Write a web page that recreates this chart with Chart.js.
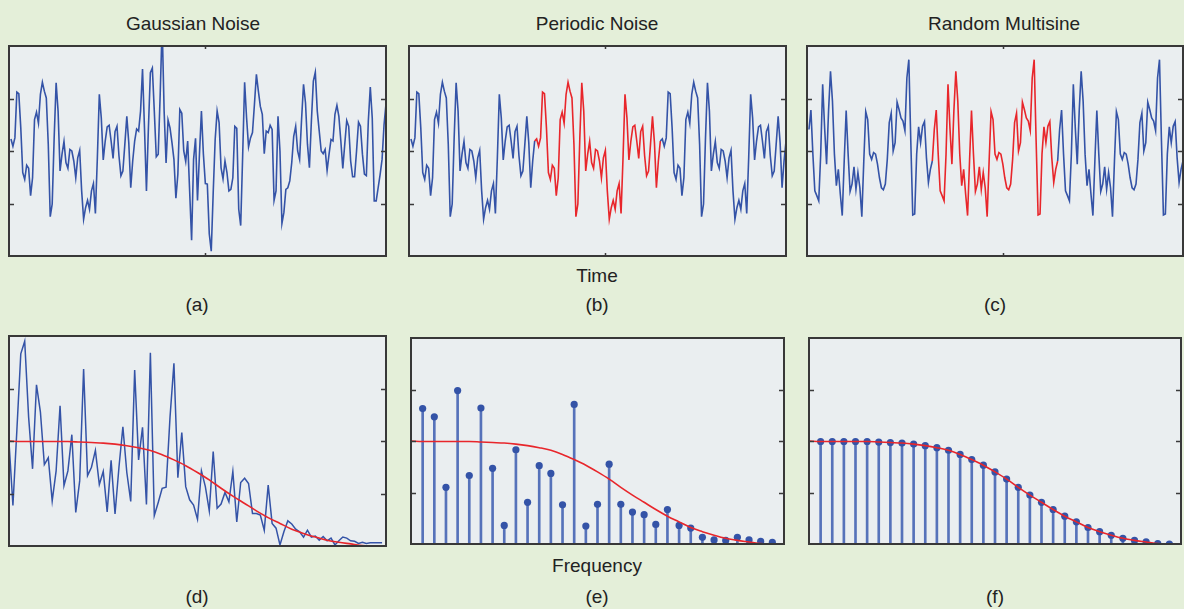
<!DOCTYPE html>
<html>
<head>
<meta charset="utf-8">
<script src="https://cdn.jsdelivr.net/npm/chart.js@4.4.1/dist/chart.umd.min.js"></script>
<style>
  html, body { margin: 0; padding: 0; }
  body { width: 1184px; height: 609px; background: #e4efd9; position: relative; overflow: hidden;
         font-family: "Liberation Sans", Arial, sans-serif; color: #222; }
  canvas { position: absolute; }
  .lbl { position: absolute; width: 240px; text-align: center; font-size: 19px; line-height: 22px; white-space: nowrap; }
</style>
</head>
<body>
<div class="lbl" style="left:73px;  top:13px">Gaussian Noise</div>
<div class="lbl" style="left:477px; top:13px">Periodic Noise</div>
<div class="lbl" style="left:884px; top:13px">Random Multisine</div>
<div class="lbl" style="left:477px; top:265px">Time</div>
<div class="lbl" style="left:77px;  top:294px">(a)</div>
<div class="lbl" style="left:477px; top:294px">(b)</div>
<div class="lbl" style="left:875px; top:294px">(c)</div>
<div class="lbl" style="left:477px; top:555px">Frequency</div>
<div class="lbl" style="left:77px;  top:586px">(d)</div>
<div class="lbl" style="left:477px; top:586px">(e)</div>
<div class="lbl" style="left:875px; top:586px">(f)</div>

<canvas id="pa"></canvas>
<canvas id="pb"></canvas>
<canvas id="pc"></canvas>
<canvas id="pd"></canvas>
<canvas id="pe"></canvas>
<canvas id="pf"></canvas>

<script>
// --- datos ---

// ruido gaussiano, muestras t = 1..192
const gaussNoise = [
  0.23, 0.09, 0.25, 1.12, 1.09, 0.44, -0.41, -0.54, -0.27, -0.33,
  -0.85, -0.51, 0.60, 0.74, 0.53, 1.08, 1.31, 1.14, 1.01, 0.13,
  -1.25, -1.01, 0.25, 1.30, 0.76, -0.38, -0.06, 0.18, -0.22, -0.33,
  0.03, 0.00, -0.19, -0.51, -0.13, 0.01, -0.76, -1.30, -1.08, -0.94,
  -1.11, -0.76, -0.62, -1.19, -0.13, 1.08, 0.63, -0.17, 0.19, 0.46,
  0.49, 0.19, -0.14, 0.37, 0.47, -0.09, -0.47, -0.38, 0.13, 0.66,
  0.16, -0.70, -0.19, 0.19,
  0.42, 0.38, 0.76, 1.56, 0.44, -0.76, 0.44, 1.49, 1.58, 0.76,
  -0.11, -0.06, 1.08, 2.40, 0.76, -0.23, 0.59, 0.44, 0.16, -0.16,
  -0.90, -0.44, 0.79, 0.72, 0.00, -0.20, 0.19, -0.76, -1.70, -0.16,
  0.24, -0.94, -0.06, 0.76, -0.06, -0.62, -0.63, -1.58, -1.91, -0.79,
  0.22, 0.76, 0.54, -0.32, -0.53, -0.19, -0.41, -0.76, -0.73, -0.51,
  0.47, 0.43, -1.11, -1.42, -0.09, 1.31, 0.63, 0.08, 0.25, 0.35,
  0.89, 1.46, 1.14, 0.85, 0.70, -0.05,
  0.38, 0.35, 0.49, 0.41, -0.94, -0.76, 0.66, 0.00, -1.38, -1.17,
  -0.73, -0.70, -0.57, -0.22, 0.28, 0.47, 0.00, -0.16, 0.60, 1.27,
  0.92, 0.13, -0.32, 0.57, 1.33, 1.50, 0.76, 0.38, 0.00, -0.05,
  0.03, -0.37, -0.06, 0.22, 0.19, 0.70, 0.87, 0.66, 0.19, -0.33,
  0.13, 0.58, 0.47, -0.19, -0.49, -0.49, 0.00, 0.55, 0.47, -0.06,
  -0.44, -0.47, 0.57, 1.22, 0.63, -0.95, -0.95, -0.70, -0.45, -0.16,
  0.50, 0.90
];

// un periodo (64 muestras) del ruido periódico = primeras 64 del gaussiano
const periodicBlock = gaussNoise.slice(0, 64);

// un periodo (64 muestras) del multiseno aleatorio
const multisineBlock = [
  0.41, 0.78, -0.06, -0.76, -0.85, -0.95, -0.06, 1.27, 0.44, -0.25,
  0.76, 1.52, 0.95, -0.06, -0.66, -0.35, -0.82, -1.23, -0.19, 0.77,
  -0.06, -0.77, -0.63, -0.30, -0.73, -0.41, -0.70, -1.25, -0.19, 0.75,
  0.60, -0.06, -0.16, -0.03, -0.06, -0.25, -0.51, -0.70, -0.74, -0.63,
  -0.16, 0.54, 0.72, 0.00, 0.16, 0.93, 0.79, 0.63, 0.57, 0.39,
  1.39, 1.74, 0.19, -1.22, -1.20, -0.06, 0.46, 0.16, 0.47, 0.56,
  -0.13, -0.60, -0.35, -0.19
];
const periodsShown = 3;
const redPeriod = 1; // segundo periodo en rojo

// espectro del ruido gaussiano, bins k = 0..95 (frecuencia k/3)
const gaussSpectrum = [
  1.98, 0.77, 2.20, 3.66, 3.90, 2.45, 1.47, 3.07, 2.55, 1.55,
  1.68, 0.86, 1.43, 2.67, 1.15, 1.43, 2.12, 0.64, 1.24, 3.37,
  1.34, 1.50, 1.82, 1.17, 1.42, 0.65, 1.63, 0.61, 1.50, 2.27,
  1.40, 0.85, 3.35, 1.64, 2.26, 0.79, 3.68, 0.58, 0.83, 1.10,
  1.12, 2.45, 3.48, 1.30, 2.16, 1.13, 0.88, 0.78, 0.51, 1.43,
  1.13, 0.67, 1.80, 0.72, 0.80, 1.02, 0.84, 1.42, 0.46, 1.21,
  1.29, 1.19, 0.62, 0.62, 0.59, 0.30, 1.16, 0.43, 0.34, 0.02,
  0.27, 0.48, 0.42, 0.32, 0.27, 0.17, 0.30, 0.17, 0.19, 0.11,
  0.18, 0.10, 0.15, 0.02, 0.10, 0.17, 0.15, 0.10, 0.09, 0.05,
  0.07, 0.05, 0.06, 0.06, 0.06, 0.06
];
const binsPerLine = 3;

// líneas del ruido periódico, frecuencias 1..31
const periodicLines = [
  2.63, 2.47, 1.10, 2.98, 1.33, 2.64, 1.47, 0.36, 1.83, 0.81,
  1.52, 1.37, 0.76, 2.71, 0.35, 0.77, 1.55, 0.77, 0.62, 0.57,
  0.38, 0.67, 0.36, 0.31, 0.13, 0.08, 0.07, 0.13, 0.08, 0.05,
  0.03
];

// respuesta del filtro (curva roja), frecuencias 0..32
const filterGain = [
  2.00, 1.99, 1.99, 1.99, 1.99, 1.99, 1.98, 1.97, 1.96, 1.94,
  1.91, 1.87, 1.82, 1.74, 1.64, 1.53, 1.40, 1.26, 1.10, 0.95,
  0.81, 0.67, 0.54, 0.43, 0.32, 0.24, 0.17, 0.11, 0.07, 0.04,
  0.01, 0.00, 0.00
];
// líneas del multiseno: amplitudes, frecuencias 1..31
const multisineLines = filterGain.slice(1, 32);

const timeTicks = [100];
const timeLevels = [-1, 0, 1];
const freqLevels = [1, 2, 3];

// --- estilos ---
const BLUE = "#3453a7";
const STEM = "rgba(60, 92, 176, 0.85)";
const RED = "#e8262b";

const framePlugin = {
  id: "frame",
  beforeDraw(chart) {
    const { ctx, chartArea: a } = chart;
    ctx.save();
    ctx.fillStyle = "#eaeef0";
    ctx.fillRect(a.left, a.top, a.right - a.left, a.bottom - a.top);
    ctx.restore();
  },
  afterDraw(chart, args, opts) {
    const { ctx, chartArea: a, scales } = chart;
    ctx.save();
    ctx.strokeStyle = "#3a3a3a";
    ctx.lineWidth = 1.5;
    ctx.beginPath();
    (opts.yTicks || []).forEach(v => {
      const py = Math.round(scales.y.getPixelForValue(v)) + 0.5;
      ctx.moveTo(a.left, py); ctx.lineTo(a.left + 5, py);
      ctx.moveTo(a.right - 5, py); ctx.lineTo(a.right, py);
    });
    (opts.xTicks || []).forEach(v => {
      const px = Math.round(scales.x.getPixelForValue(v)) + 0.5;
      ctx.moveTo(px, a.top); ctx.lineTo(px, a.top + 3);
      ctx.moveTo(px, a.bottom - 3); ctx.lineTo(px, a.bottom);
    });
    ctx.stroke();
    ctx.lineWidth = 2;
    ctx.strokeStyle = "#383838";
    ctx.strokeRect(a.left, a.top, a.right - a.left, a.bottom - a.top);
    ctx.restore();
  }
};

function panel(id, box, xr, yr, xTicks, yTicks, datasets) {
  const c = document.getElementById(id);
  c.width = box[2] + 4;
  c.height = box[3] + 4;
  c.style.left = (box[0] - 2) + "px";
  c.style.top = (box[1] - 2) + "px";
  return new Chart(c, {
    type: "line",
    data: { datasets },
    options: {
      responsive: false,
      animation: false,
      events: [],
      layout: { padding: 2 },
      scales: {
        x: { type: "linear", display: false, min: xr[0], max: xr[1], offset: false },
        y: { type: "linear", display: false, min: yr[0], max: yr[1] }
      },
      plugins: {
        legend: { display: false },
        tooltip: { enabled: false },
        frame: { xTicks, yTicks }
      }
    },
    plugins: [framePlugin]
  });
}

function repeatBlock(block, n) {
  let out = [];
  for (let i = 0; i < n; i++) out = out.concat(block);
  return out;
}

function timeLine(values, blockLen, redIdx) {
  const r0 = blockLen * redIdx - 1, r1 = blockLen * (redIdx + 1) - 1;
  return {
    data: values.map((v, i) => ({ x: i + 1, y: v })),
    borderColor: BLUE,
    borderWidth: 1.6,
    pointRadius: 0,
    tension: 0,
    segment: redIdx == null ? undefined : {
      borderColor: s => (s.p0DataIndex >= r0 && s.p1DataIndex <= r1) ? RED : BLUE
    }
  };
}

function redCurve() {
  return {
    data: filterGain.map((v, i) => ({ x: i, y: v })),
    borderColor: RED,
    borderWidth: 1.6,
    pointRadius: 0,
    cubicInterpolationMode: "monotone",
    order: 0
  };
}

function stems(values) {
  return [
    {
      type: "bar",
      data: values.map((v, i) => ({ x: i + 1, y: v })),
      backgroundColor: STEM,
      borderWidth: 0,
      barThickness: 2,
      order: 3
    },
    {
      data: values.map((v, i) => ({ x: i + 1, y: v })),
      showLine: false,
      pointRadius: 3.6,
      pointBackgroundColor: BLUE,
      pointBorderWidth: 0,
      order: 1
    }
  ];
}

const T = [0, 192], V = [-2, 2], F = [0, 32], M = [0, 4];

panel("pa", [9, 46, 377, 210], T, V, timeTicks, timeLevels, [timeLine(gaussNoise)]);
panel("pb", [409, 46, 377, 210], T, V, timeTicks, timeLevels,
  [timeLine(repeatBlock(periodicBlock, periodsShown), periodicBlock.length, redPeriod)]);
panel("pc", [807, 46, 376, 210], T, V, timeTicks, timeLevels,
  [timeLine(repeatBlock(multisineBlock, periodsShown), multisineBlock.length, redPeriod)]);

panel("pd", [9, 336, 377, 210], F, M, [], freqLevels, [
  redCurve(),
  {
    data: gaussSpectrum.map((v, k) => ({ x: k / binsPerLine, y: v })),
    borderColor: BLUE,
    borderWidth: 1.5,
    pointRadius: 0,
    tension: 0,
    order: 2
  }
]);
panel("pe", [409, 336, 377, 210], F, M, [], freqLevels, [redCurve(), ...stems(periodicLines)]);
panel("pf", [807, 336, 376, 210], F, M, [], freqLevels, [redCurve(), ...stems(multisineLines)]);
</script>
</body>
</html>
